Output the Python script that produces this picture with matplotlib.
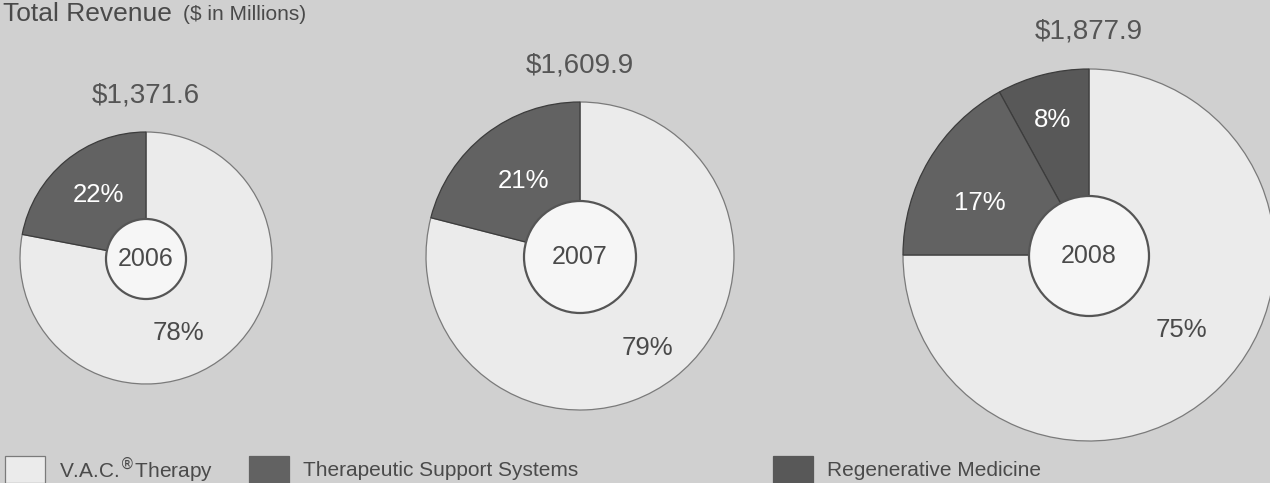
import numpy as np
import matplotlib.pyplot as plt
from matplotlib.patches import Circle, Rectangle

plt.rcParams['font.family'] = ['Liberation Sans', 'DejaVu Sans']

# revenue split by segment, percent of total
years = ['2006', '2007', '2008']
totals = [1371.6, 1609.9, 1877.9]
vac = [78, 79, 75]
tss = [22, 21, 17]
regen = [0, 0, 8]
segments = ['V.A.C.$^{\u00ae}$Therapy', 'Therapeutic Support Systems', 'Regenerative Medicine']

# layout in pixel units (y measured up from the bottom)
W, H = 1270, 483
centers = [(146, 225), (580, 227), (1089, 228)]
radii = [126, 154, 186]
hole_r = [40, 56, 60]
# label placement as (angle in degrees, fraction of radius) per segment
lab_pos = [
    [(-67, 0.65), (127, 0.63), None],
    [(-53.5, 0.74), (127, 0.61), None],
    [(-39, 0.64), (154.5, 0.65), (105, 0.75)],
]

bg = '#d0d0d0'
c_vac = '#ebebeb'
c_tss = '#626262'
c_regen = '#585858'
txt = '#4a4a4a'

fig = plt.figure(figsize=(W / 100, H / 100), dpi=100, facecolor=bg)
ax = fig.add_axes([0, 0, 1, 1])
ax.set_facecolor(bg)

for i in range(3):
    cx, cy = centers[i]
    r = radii[i]
    # dark slices start at 12 o'clock and run counter-clockwise
    vals = [regen[i], tss[i], vac[i]]
    cols = [c_regen, c_tss, c_vac]
    keep = [k for k in range(3) if vals[k] > 0]
    wedges, _ = ax.pie([vals[k] for k in keep], colors=[cols[k] for k in keep],
                       startangle=90, counterclock=True, radius=r, center=(cx, cy),
                       wedgeprops=dict(linewidth=0.9, edgecolor='#3c3c3c'))
    wedges[-1].set_edgecolor('#7a7a7a')
    for w in wedges[:-1]:
        w.set_zorder(3)

    ax.add_patch(Circle((cx, cy - 1), hole_r[i], facecolor='#f6f6f6',
                        edgecolor='#555555', linewidth=1.6, zorder=5))
    ax.text(cx, cy - 1, years[i], ha='center', va='center', fontsize=18,
            color=txt, zorder=6)
    ax.text(cx, cy + r + 37, '$' + format(totals[i], ',.1f'), ha='center',
            va='center', fontsize=20, color='#555555')

    seg_vals = [vac[i], tss[i], regen[i]]
    for k in range(3):
        if lab_pos[i][k] is None:
            continue
        ang, frac = lab_pos[i][k]
        lx = cx + r * frac * np.cos(np.radians(ang))
        ly = cy + r * frac * np.sin(np.radians(ang))
        ax.text(lx, ly, f'{seg_vals[k]}%', ha='center', va='center', fontsize=18.5,
                color=txt if k == 0 else 'white', zorder=6)

# heading
ax.text(3, H - 14, 'Total Revenue', ha='left', va='center', fontsize=19, color=txt)
ax.text(183, H - 15, '($ in Millions)', ha='left', va='center', fontsize=15, color=txt)

# legend row along the bottom
leg_x = [5, 249, 773]
leg_cols = [c_vac, c_tss, c_regen]
for k in range(3):
    ax.add_patch(Rectangle((leg_x[k], 0), 40, 27, facecolor=leg_cols[k],
                           edgecolor='#7a7a7a' if k == 0 else leg_cols[k], linewidth=0.9))
    ax.text(leg_x[k] + 54, 13, segments[k], ha='left', va='center', fontsize=15,
            color=txt)

ax.set_xlim(0, W)
ax.set_ylim(0, H)
ax.set_aspect('auto')
ax.axis('off')

fig.savefig('out.png', dpi=100, facecolor=bg)
